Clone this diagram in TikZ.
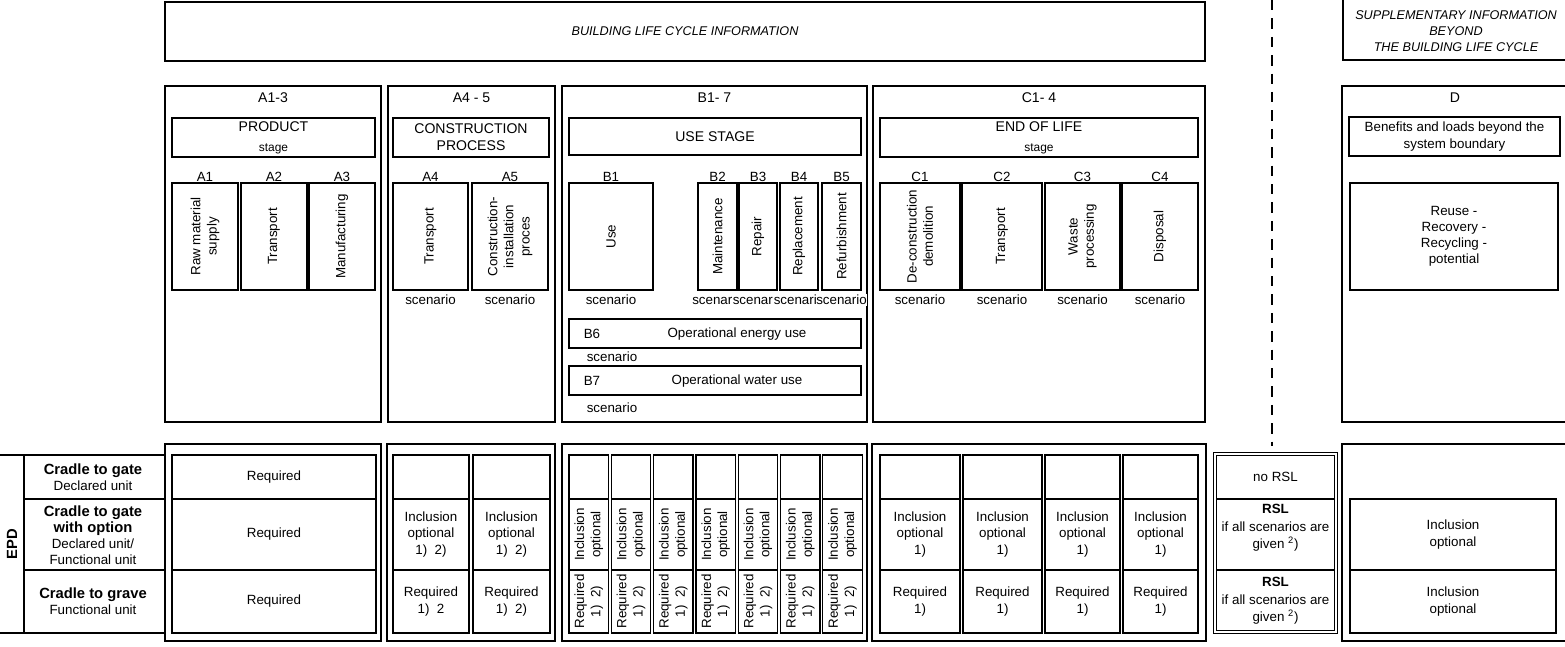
\documentclass[tikz,border=0pt]{standalone}
\usepackage{fontspec}
\setmainfont{Liberation Sans}
\newcommand\stagefont{\fontsize{10}{12}\selectfont}
\newcommand\smallfont{\fontsize{8.5}{10}\selectfont}
\newcommand\epdfont{\fontsize{10.5}{12}\selectfont\bfseries}
\tikzset{
  every node/.style={font=\fontsize{9.5}{11.5}\selectfont, align=center, inner sep=0pt},
  wh/.style 2 args={minimum width=#1*0.25mm, minimum height=#2*0.25mm},
  stagebox/.style={draw, line width=2pt},
  namebox/.style={draw, line width=1.8pt, font=\stagefont},
  modbox/.style={draw, line width=0.9pt},
  infotext/.style={font=\fontsize{9}{11.3}\selectfont\itshape},
  tag/.style={font=\stagefont},
  scen/.style={fill=white, inner sep=0.5pt},
}

\begin{document}
\begin{tikzpicture}[x=0.25mm, y=-0.25mm]
\useasboundingbox (0,0) rectangle (1565,647);

% information headers
\node[stagebox, wh={1040}{59}, infotext] (life) at (685,31.5) {BUILDING LIFE CYCLE INFORMATION};
\node[stagebox, wh={226}{66}] (supp) at (1456,27) {};
\node[infotext] (supp text) at (1456,31) {SUPPLEMENTARY INFORMATION\\BEYOND\\THE BUILDING LIFE CYCLE};
\coordinate (cut top) at (1272,0);
\coordinate (cut end) at (1272,446);
\draw[line width=1.5pt, dash pattern=on 2.6mm off 2mm] (cut top) -- (cut end);

% stages
\node[stagebox, wh={216}{336}] (a13) at (273,254) {};
\node[stagebox, wh={167}{336}] (a45) at (471.5,254) {};
\node[stagebox, wh={305}{336}] (b17) at (714.5,254) {};
\node[stagebox, wh={332}{336}] (c14) at (1039,254) {};
\node[stagebox, wh={226}{336}] (d) at (1455,254) {};
\node[tag] (a13 tag) at (273,98) {A1-3};
\node[tag] (a45 tag) at (471.5,98) {A4 - 5};
\node[tag] (b17 tag) at (714.5,98) {B1- 7};
\node[tag] (c14 tag) at (1039,98) {C1- 4};
\node[tag] (d tag) at (1455,98) {D};

\node[namebox, wh={203}{39}] (product) at (273.5,137.5) {PRODUCT\\[2pt]{\smallfont stage}};
\node[namebox, wh={156}{39}] (process) at (471,137.5) {CONSTRUCTION\\PROCESS};
\node[namebox, wh={292}{37}] (use stage) at (715,136.5) {USE STAGE};
\node[namebox, wh={318}{39}] (end of life) at (1039,137.5) {END OF LIFE\\[2pt]{\smallfont stage}};
\node[namebox, wh={211}{39}, font=\fontsize{9.5}{12}\selectfont] (benefits) at (1454.5,136.5) {Benefits and loads beyond the\\system boundary};

% modules
\node (a1 tag) at (205,176.5) {A1};
\node (a2 tag) at (274,176.5) {A2};
\node (a3 tag) at (342,176.5) {A3};
\node (a4 tag) at (430.5,176.5) {A4};
\node (a5 tag) at (510,176.5) {A5};
\node (b1 tag) at (611,176.5) {B1};
\node (b2 tag) at (717.5,176.5) {B2};
\node (b3 tag) at (758,176.5) {B3};
\node (b4 tag) at (799,176.5) {B4};
\node (b5 tag) at (841.5,176.5) {B5};
\node (c1 tag) at (920,176.5) {C1};
\node (c2 tag) at (1002,176.5) {C2};
\node (c3 tag) at (1082.5,176.5) {C3};
\node (c4 tag) at (1160,176.5) {C4};

\node[modbox, rotate=90, wh={107}{66}] (a1) at (205,236.5) {Raw material\\supply};
\node[modbox, rotate=90, wh={107}{66}] (a2) at (274,236.5) {Transport};
\node[modbox, rotate=90, wh={107}{66}] (a3) at (342,236.5) {Manufacturing};
\node[modbox, rotate=90, wh={107}{75}] (a4) at (430.5,236.5) {Transport};
\node[modbox, rotate=90, wh={107}{76}] (a5) at (510,236.5) {Construction-\\installation\\proces};
\node[modbox, rotate=90, wh={107}{84}] (b1) at (611,236.5) {Use};
\node[modbox, rotate=90, wh={107}{39}] (b2) at (717.5,236.5) {Maintenance};
\node[modbox, rotate=90, wh={107}{38}] (b3) at (758,236.5) {Repair};
\node[modbox, rotate=90, wh={107}{38}] (b4) at (799,236.5) {Replacement};
\node[modbox, rotate=90, wh={107}{39}] (b5) at (841.5,236.5) {Refurbishment};
\node[modbox, rotate=90, wh={107}{80}] (c1) at (920,236.5) {De-construction\\demolition};
\node[modbox, rotate=90, wh={107}{80}] (c2) at (1002,236.5) {Transport};
\node[modbox, rotate=90, wh={107}{75}] (c3) at (1082.5,236.5) {Waste\\processing};
\node[modbox, rotate=90, wh={107}{76}] (c4) at (1160,236.5) {Disposal};
\node[modbox, wh={208}{107}] (reuse) at (1454,236.5) {Reuse -\\Recovery -\\Recycling -\\potential};

\node[scen] (a4 scen) at (430.5,300) {scenario};
\node[scen] (a5 scen) at (510,300) {scenario};
\node[scen] (b1 scen) at (611,300) {scenario};
\node[scen] (b2 scen) at (717.5,300) {scenario};
\node[scen] (b3 scen) at (758,300) {scenario};
\node[scen] (b4 scen) at (799,300) {scenario};
\node[scen] (b5 scen) at (841.5,300) {scenario};
\node[scen] (c1 scen) at (920,300) {scenario};
\node[scen] (c2 scen) at (1002,300) {scenario};
\node[scen] (c3 scen) at (1082.5,300) {scenario};
\node[scen] (c4 scen) at (1160,300) {scenario};

\node[modbox, wh={292}{29}] (b6) at (715,333.5) {};
\node (b6 tag) at (592,334) {B6};
\node (b6 text) at (737,334) {Operational energy use};
\node[scen] (b6 scen) at (612,357) {scenario};
\node[modbox, wh={292}{29}] (b7) at (715,380.5) {};
\node (b7 tag) at (592,381) {B7};
\node (b7 text) at (737,381) {Operational water use};
\node[scen] (b7 scen) at (612,408) {scenario};

% EPD table
\draw[line width=0.9pt] (0,455) -- (165,455) (0,633) -- (165,633) (24,455) -- (24,633)
  (24,499) -- (165,499) (24,570) -- (165,570);
\node[rotate=90, font=\epdfont] (epd) at (12,544) {EPD};
\node (gate) at (93,477) {{\epdfont Cradle to gate}\\Declared unit};
\node (option) at (93,535) {{\epdfont Cradle to gate}\\{\epdfont with option}\\Declared unit/\\Functional unit};
\node (grave) at (93,601.5) {{\epdfont Cradle to grave}\\Functional unit};

\node[stagebox, wh={216}{197}] (a13 epd) at (273,542.5) {};
\node[stagebox, wh={168}{197}] (a45 epd) at (471,542.5) {};
\node[stagebox, wh={305}{197}] (b17 epd) at (714.5,542.5) {};
\node[stagebox, wh={334}{197}] (c14 epd) at (1039,542.5) {};
\node[stagebox, wh={226}{197}] (d epd) at (1455,542.5) {};

\node[modbox, wh={204}{44}] (a13 r1) at (274,477) {Required};
\node[modbox, wh={204}{71}] (a13 r2) at (274,534.5) {Required};
\node[modbox, wh={204}{63}] (a13 r3) at (274,601.5) {Required};

\node[modbox, wh={76}{44}] (a4 r1) at (431,477) {};
\node[modbox, wh={76}{71}] (a4 r2) at (431,534.5) {Inclusion\\optional\\1)~~2)};
\node[modbox, wh={76}{63}] (a4 r3) at (431,601.5) {Required\\1)~~2};
\node[modbox, wh={77}{44}] (a5 r1) at (511.5,477) {};
\node[modbox, wh={77}{71}] (a5 r2) at (511.5,534.5) {Inclusion\\optional\\1)~~2)};
\node[modbox, wh={77}{63}] (a5 r3) at (511.5,601.5) {Required\\1)~~2)};

\foreach \i in {0,...,6} {
  \node[modbox, wh={39.5}{44}] (b\i r1) at (588.75+42.3*\i,477) {};
  \node[modbox, rotate=90, wh={71}{39.5}] (b\i r2) at (588.75+42.3*\i,534.5) {Inclusion\\optional};
  \node[modbox, rotate=90, wh={63}{39.5}] (b\i r3) at (588.75+42.3*\i,601.5) {Required\\1)~~2)};
}

\foreach \x/\w [count=\i] in {920/80, 1002.5/79, 1082.5/75, 1160.5/75} {
  \node[modbox, wh={\w}{44}] (c\i r1) at (\x,477) {};
  \node[modbox, wh={\w}{71}] (c\i r2) at (\x,534.5) {Inclusion\\optional\\1)};
  \node[modbox, wh={\w}{63}] (c\i r3) at (\x,601.5) {Required\\1)};
}

\node[draw, double, double distance=1.4pt, line width=0.6pt, wh={121}{178}] (rsl) at (1275.5,543) {};
\draw[line width=0.9pt] (1216,499) -- (1335,499) (1216,570) -- (1335,570);
\node (rsl r1) at (1275.5,477) {no RSL};
\node (rsl r2) at (1275.5,528) {{\bfseries RSL}\\[1pt]if all scenarios are\\[1pt]given \textsuperscript{2})};
\node (rsl r3) at (1275.5,601) {{\bfseries RSL}\\[1pt]if all scenarios are\\[1pt]given \textsuperscript{2})};

\node[modbox, wh={206}{71}] (d r2) at (1453,534.5) {Inclusion\\optional};
\node[modbox, wh={206}{63}] (d r3) at (1453,601.5) {Inclusion\\optional};
\end{tikzpicture}
\end{document}
